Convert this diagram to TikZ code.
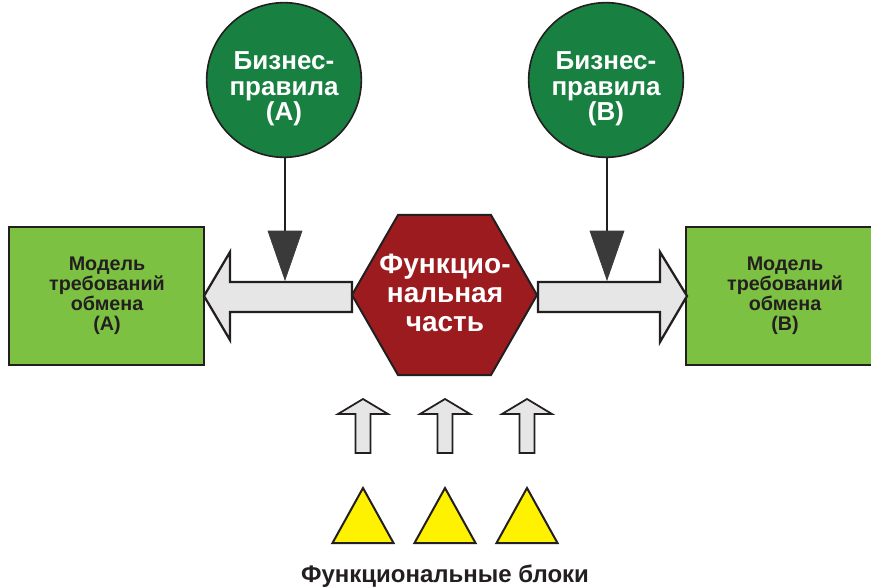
\documentclass[tikz,border=0pt]{standalone}
\usepackage{fontspec}
\setmainfont{Liberation Sans}
\definecolor{circgreen}{RGB}{24,128,64}
\definecolor{boxgreen}{RGB}{125,193,66}
\definecolor{hexred}{RGB}{155,27,31}
\definecolor{arrgray}{RGB}{230,230,230}
\definecolor{darktri}{RGB}{58,58,58}
\definecolor{triyellow}{RGB}{255,242,0}
\definecolor{textdark}{RGB}{35,31,32}
\tikzset{
  outl/.style={draw=textdark, line width=1.5pt, line join=miter},
  rulecirc/.style={circle, fill=circgreen, draw=textdark, line width=1.2pt, minimum size=116pt, inner sep=0pt},
  circtext/.style={text=white, font=\bfseries\fontsize{19.5}{19}\selectfont, align=center},
  hextext/.style={text=white, font=\bfseries\fontsize{21}{21.5}\selectfont, align=center},
  boxtext/.style={text=textdark, font=\bfseries\fontsize{14.8}{15}\selectfont, align=center},
  bottomtext/.style={text=textdark, font=\bfseries\fontsize{18}{19}\selectfont},
  blockarrow/.style={outl, fill=arrgray, line width=1.7pt},
  smallarrow/.style={outl, fill=arrgray, line width=1.3pt},
  darkhead/.style={fill=darktri, draw=darktri, line width=0.5pt},
  stem/.style={draw=textdark, line width=2.2pt},
  yeltri/.style={outl, fill=triyellow, line width=1.5pt},
}
\begin{document}
\begin{tikzpicture}[x=0.75pt,y=-0.75pt]
\useasboundingbox (0,0) rectangle (871,588);

% green boxes
\path[outl, fill=boxgreen] (9,227) rectangle (204,365);
\path[outl, fill=boxgreen] (686,227) rectangle (880,365);
\node[boxtext] (boxA) at (107,296) {Модель\\требований\\обмена\\(A)};
\node[boxtext] (boxB) at (785,296) {Модель\\требований\\обмена\\(B)};

% block arrows
\coordinate (hexL) at (352,295);
\coordinate (hexR) at (537,295);
\path[blockarrow] (352,282) -- (230,282) -- (230,252) -- (204,296) -- (230,340) -- (230,312) -- (352,312) -- cycle;
\path[blockarrow] (538,282) -- (660,282) -- (660,252) -- (687,296) -- (660,342) -- (660,312) -- (538,312) -- cycle;

% hexagon
\path[outl, fill=hexred] (352,295) -- (398,215) -- (491,215) -- (537,295) -- (491,375) -- (398,375) -- cycle;
\node[hextext] (hex) at (445,293) {Функцио-\\нальная\\часть};

% circles
\node[rulecirc] (circA) at (284,80) {};
\node[circtext] (txtA) at (284,89) {Бизнес-\\правила\\(A)};
\node[rulecirc] (circB) at (606,80) {};
\node[circtext] (txtB) at (606,89) {Бизнес-\\правила\\(B)};

% dark arrow heads
\coordinate (triAtop) at (285,231);
\coordinate (triBtop) at (607,231);
\draw[stem] (circA.south -| triAtop) -- (triAtop);
\draw[stem] (circB.south -| triBtop) -- (triBtop);
\path[darkhead] (268,231) -- (302,231) -- (285,280) -- cycle;
\path[darkhead] (590,231) -- (624,231) -- (607,280) -- cycle;

% small up arrows
\foreach \x in {363,445,527}{
  \path[smallarrow] (\x-7.5,453) -- (\x-7.5,414) -- (\x-25,414) -- (\x,399) -- (\x+25,414) -- (\x+7.5,414) -- (\x+7.5,453) -- cycle;
  \path[yeltri] (\x-30.5,543) -- (\x,488) -- (\x+30.5,543) -- cycle;
}

\node[bottomtext, anchor=base] (blocks) at (445,582) {Функциональные блоки};
\end{tikzpicture}
\end{document}
